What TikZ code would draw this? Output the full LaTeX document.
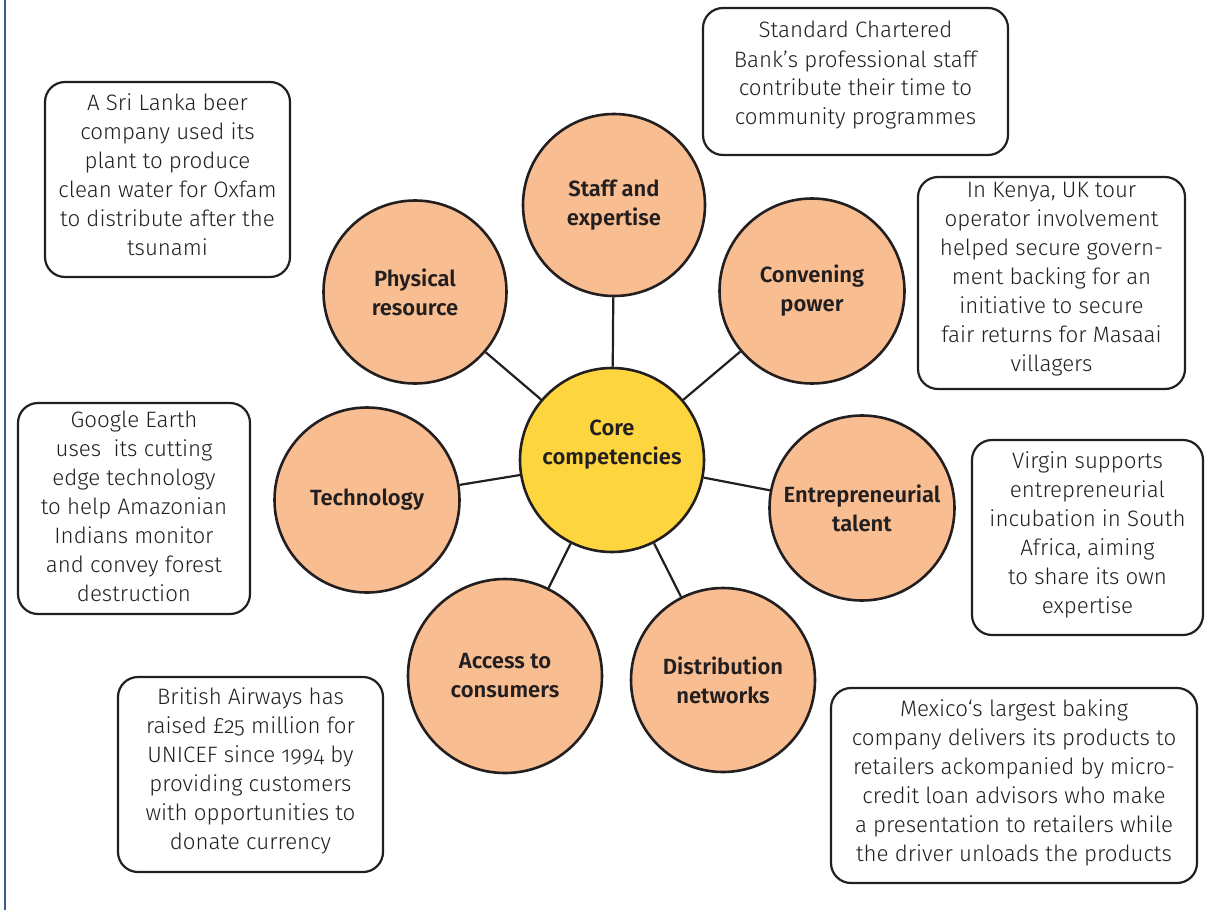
\documentclass[tikz,border=0pt]{standalone}
\usepackage{fontspec}
\setmainfont{Fira Sans Light}[Numbers=OldStyle,BoldFont={Fira Sans SemiBold}]
\definecolor{peach}{RGB}{248,189,144}
\definecolor{coreyellow}{RGB}{253,214,63}
\definecolor{ink}{RGB}{35,31,32}
\definecolor{edgeblue}{RGB}{60,90,140}
\begin{document}
\begin{tikzpicture}[x=1pt,y=-1pt,
  comp/.style={circle,draw=ink,line width=2.6pt,fill=peach,align=center,inner sep=0pt,
    font=\fontsize{22}{29}\selectfont\bfseries,text=ink},
  corecirc/.style={comp,fill=coreyellow},
  link/.style={draw=ink,line width=2.2pt},
  examplebox/.style={draw=ink,line width=2.2pt,rounded corners=20pt,inner sep=0pt},
  exampletext/.style={align=center,font=\fontsize{22.3}{29}\selectfont,text=ink,inner sep=0pt}]
\useasboundingbox (0,0) rectangle (1210,910);
\fill[white] (0,0) rectangle (1210,910);
\draw[edgeblue,line width=1.6pt] (5,0) -- (5,910);

% competency circles
\node[corecirc,minimum size=184pt] (core) at (612,460) {};
\node[font=\fontsize{22}{29}\selectfont\bfseries,text=ink,align=center] (coretext) at (612,445) {Core\\competencies};
\node[comp,minimum size=182pt] (staff) at (614,205) {Staff and\\expertise};
\node[comp,minimum size=183pt] (phys) at (415,292) {Physical\\resource};
\node[comp,minimum size=185pt] (conv) at (812,291) {Convening\\power};
\node[comp,minimum size=185pt] (tech) at (367,500) {Technology};
\node[comp,minimum size=185pt] (entr) at (862,508) {Entrepreneurial\\talent};
\node[comp,minimum size=194pt] (acc) at (505,676) {Access to\\consumers};
\node[comp,minimum size=184pt] (dist) at (723,680) {Distribution\\networks};

% links
\draw[link] (core) -- (staff);
\draw[link] (core) -- (phys);
\draw[link] (core) -- (conv);
\draw[link] (core) -- (tech);
\draw[link] (core) -- (entr);
\draw[link] (core) -- (acc);
\draw[link] (core) -- (dist);

% example boxes
\node[examplebox,minimum width=245pt,minimum height=195pt] (exphys) at (167.5,179.5) {};
\node[exampletext] (exphyst) at ([yshift=5pt]exphys.center)
  {A Sri Lanka beer\\company used its\\plant to produce\\clean water for Oxfam\\to distribute after the\\tsunami};
\node[examplebox,minimum width=305pt,minimum height=147pt] (exstaff) at (855.5,81.5) {};
\node[exampletext] (exstafft) at ([yshift=6pt]exstaff.center)
  {Standard Chartered\\Bank’s professional staff\\contribute their time to\\community programmes};
\node[examplebox,minimum width=267pt,minimum height=212pt] (exconv) at (1051.5,283) {};
\node[exampletext] (exconvt) at ([yshift=4pt]exconv.center)
  {In Kenya, UK tour\\operator involvement\\helped secure govern-\\ment backing for an\\initiative to secure\\fair returns for Masaai\\villagers};
\node[examplebox,minimum width=232pt,minimum height=211pt] (extech) at (134,508.5) {};
\node[exampletext] (extecht) at ([yshift=2pt]extech.center)
  {Google Earth\\uses\ \ its cutting\\edge technology\\to help Amazonian\\Indians monitor\\and convey forest\\destruction};
\node[examplebox,minimum width=231pt,minimum height=195pt] (exentr) at (1087.5,537.5) {};
\node[exampletext] (exentrt) at ([yshift=3pt]exentr.center)
  {Virgin supports\\entrepreneurial\\incubation in South\\Africa, aiming\\to share its own\\expertise};
\node[examplebox,minimum width=265pt,minimum height=195pt] (exacc) at (250.5,774.5) {};
\node[exampletext] (exacct) at ([yshift=4pt]exacc.center)
  {British Airways has\\raised £25 million for\\UNICEF since 1994 by\\providing customers\\with opportunities to\\donate currency};
\node[examplebox,minimum width=366pt,minimum height=195pt] (exdist) at (1014,785.5) {};
\node[exampletext] (exdistt) at ([yshift=3pt]exdist.center)
  {Mexico‘s largest baking\\company delivers its products to\\retailers ackompanied by micro-\\credit loan advisors who make\\a presentation to retailers while\\the driver unloads the products};
\end{tikzpicture}
\end{document}
